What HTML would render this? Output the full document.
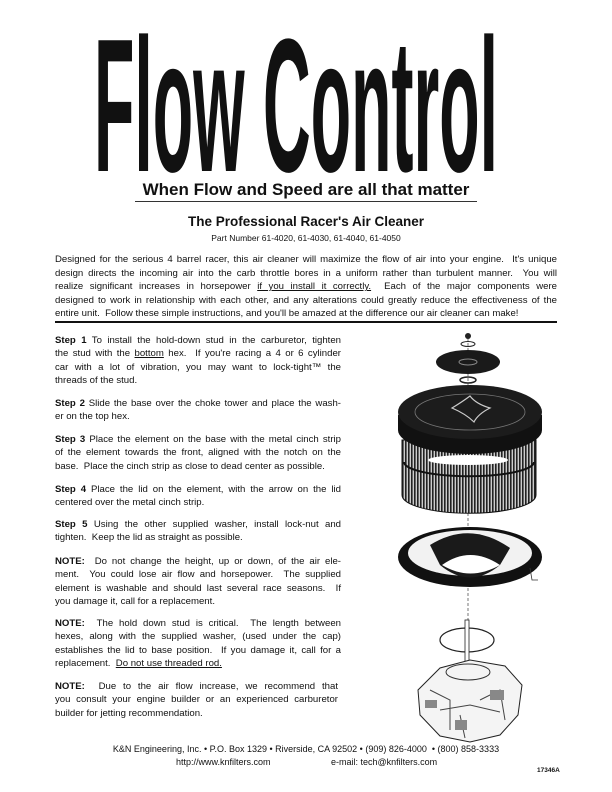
<!DOCTYPE html>
<html><head><meta charset="utf-8"><style>
body{margin:0;background:#fff}
#p{position:relative;width:612px;height:792px;overflow:hidden;font-family:"Liberation Sans",Arial,sans-serif;color:#111}
.a{position:absolute}
.t{font-size:9.6px;line-height:13.3px;text-align:justify;text-align-last:justify}
.lp{display:block;text-align:justify;text-align-last:justify}
.ll{display:block;text-align:left;text-align-last:left}
b{font-weight:bold}
</style></head><body><div id="p">
<div class="a" style="left:94px;top:11px;width:1200px;font-size:190px;line-height:190px;font-weight:bold;transform-origin:0 0;transform:scaleX(0.348);white-space:nowrap">Flow Control</div>
<div class="a" style="left:0;width:612px;top:180px;text-align:center;font-weight:bold;font-size:17px">When Flow and Speed are all that matter</div>
<div class="a" style="left:135px;width:342px;top:201px;border-top:1px solid #333"></div>
<div class="a" style="left:0;width:612px;top:214px;text-align:center;font-weight:bold;font-size:13.5px">The Professional Racer's Air Cleaner</div>
<div class="a" style="left:0;width:612px;top:233px;text-align:center;font-size:8.5px">Part Number 61-4020, 61-4030, 61-4040, 61-4050</div>
<div class="a t" style="left:55px;width:502px;top:253px;line-height:13.6px">
<span class="lp">Designed for the serious 4 barrel racer, this air cleaner will maximize the flow of air into your engine. &nbsp;It's unique</span>
<span class="lp">design directs the incoming air into the carb throttle bores in a uniform rather than turbulent manner. &nbsp;You will</span>
<span class="lp">realize significant increases in horsepower <u>if you install it correctly.</u> &nbsp;Each of the major components were</span>
<span class="lp">designed to work in relationship with each other, and any alterations could greatly reduce the effectiveness of the</span>
<span class="ll">entire unit. &nbsp;Follow these simple instructions, and you'll be amazed at the difference our air cleaner can make!</span>
</div>
<div class="a" style="left:55px;width:502px;top:321px;border-top:2px solid #111"></div>

<div class="a t" style="left:55px;width:286px;top:334px">
<span class="lp"><b>Step 1</b> To install the hold-down stud in the carburetor, tighten</span>
<span class="lp">the stud with the <u>bottom</u> hex. &nbsp;If you're racing a 4 or 6 cylinder</span>
<span class="lp">car with a lot of vibration, you may want to lock-tight™ the</span>
<span class="ll">threads of the stud.</span></div>
<div class="a t" style="left:55px;width:286px;top:397px">
<span class="lp"><b>Step 2</b> Slide the base over the choke tower and place the wash-</span>
<span class="ll">er on the top hex.</span></div>
<div class="a t" style="left:55px;width:286px;top:433px">
<span class="lp"><b>Step 3</b> Place the element on the base with the metal cinch strip</span>
<span class="lp">of the element towards the front, aligned with the notch on the</span>
<span class="ll">base. &nbsp;Place the cinch strip as close to dead center as possible.</span></div>
<div class="a t" style="left:55px;width:286px;top:483px">
<span class="lp"><b>Step 4</b> Place the lid on the element, with the arrow on the lid</span>
<span class="ll">centered over the metal cinch strip.</span></div>
<div class="a t" style="left:55px;width:286px;top:518px">
<span class="lp"><b>Step 5</b> Using the other supplied washer, install lock-nut and</span>
<span class="ll">tighten. &nbsp;Keep the lid as straight as possible.</span></div>
<div class="a t" style="left:55px;width:286px;top:555px">
<span class="lp"><b>NOTE:</b> &nbsp;Do not change the height, up or down, of the air ele-</span>
<span class="lp">ment. &nbsp;You could lose air flow and horsepower. &nbsp;The supplied</span>
<span class="lp">element is washable and should last several race seasons. &nbsp;If</span>
<span class="ll">you damage it, call for a replacement.</span></div>
<div class="a t" style="left:55px;width:286px;top:617px">
<span class="lp"><b>NOTE:</b> &nbsp;The hold down stud is critical. &nbsp;The length between</span>
<span class="lp">hexes, along with the supplied washer, (used under the cap)</span>
<span class="lp">establishes the lid to base position. &nbsp;If you damage it, call for a</span>
<span class="ll">replacement. &nbsp;<u>Do not use threaded rod.</u></span></div>
<div class="a t" style="left:55px;width:283px;top:680px">
<span class="lp"><b>NOTE:</b> &nbsp;Due to the air flow increase, we recommend that</span>
<span class="lp">you consult your engine builder or an experienced carburetor</span>
<span class="ll">builder for jetting recommendation.</span></div>

<svg class="a" style="left:0;top:0" width="612" height="792">
<defs><pattern id="st" width="3" height="10" patternUnits="userSpaceOnUse"><rect width="3" height="10" fill="#ccc"/><rect width="1.6" height="10" fill="#222"/></pattern></defs>
<line x1="468" y1="338" x2="468" y2="650" stroke="#555" stroke-width="0.8" stroke-dasharray="3,2"/>
<circle cx="468" cy="336" r="3" fill="#222"/>
<ellipse cx="468" cy="344" rx="7" ry="2.5" fill="none" stroke="#222"/>
<ellipse cx="468" cy="362" rx="32" ry="12" fill="#1a1a1a"/>
<ellipse cx="468" cy="362" rx="9" ry="3" fill="none" stroke="#888"/>
<ellipse cx="468" cy="380" rx="8" ry="3" fill="none" stroke="#222" stroke-width="1.5"/>
<path d="M402 440 L402 495 A66 18 0 0 0 536 495 L536 440 Z" fill="url(#st)" stroke="#111"/>
<path d="M404 462 A64 14 0 0 0 534 462" fill="none" stroke="#111" stroke-width="2"/>
<ellipse cx="468" cy="460" rx="40" ry="5" fill="#fff"/>
<path d="M398 415 L398 430 A72 24 0 0 0 542 430 L542 415 Z" fill="#111"/>
<ellipse cx="470" cy="412" rx="72" ry="27" fill="#1c1c1c"/>
<ellipse cx="470" cy="412" rx="55" ry="18" fill="none" stroke="#777" stroke-width="0.8"/>
<path d="M452 408 Q462 402 470 396 Q476 404 490 408 Q478 414 474 422 Q466 414 452 408Z" fill="none" stroke="#ccc" stroke-width="1.2"/>
<ellipse cx="470" cy="557" rx="72" ry="30" fill="#111"/>
<ellipse cx="470" cy="553" rx="62" ry="23" fill="#f2f2f2"/>
<path d="M430 545 Q470 520 510 548 L500 565 Q470 590 440 565 Z" fill="#1a1a1a"/>
<path d="M442 565 Q470 545 500 565 Q470 582 442 565Z" fill="#fff"/>
<path d="M530 568 L532 580 L538 580" fill="none" stroke="#333" stroke-width="0.8"/>
<ellipse cx="467" cy="640" rx="27" ry="12" fill="none" stroke="#222" stroke-width="1.2"/>
<rect x="465" y="620" width="4" height="42" fill="#fff" stroke="#222" stroke-width="0.8"/>
<path d="M418 690 L440 668 L470 660 L505 666 L522 685 L518 715 L500 735 L470 742 L440 736 L420 715 Z" fill="#f4f4f4" stroke="#222"/>
<ellipse cx="468" cy="672" rx="22" ry="8" fill="none" stroke="#333"/>
<path d="M430 690 L450 700 L450 730 M480 700 L500 690 L505 720 M440 710 L470 705 L500 712 M460 715 L465 738" fill="none" stroke="#444" stroke-width="1"/>
<path d="M425 700 h12 v8 h-12z M490 690 h14 v10 h-14z M455 720 h12 v10 h-12z" fill="#888"/>
</svg>

<div class="a" style="left:0;width:612px;top:744px;text-align:center;font-size:9px">K&amp;N Engineering, Inc. • P.O. Box 1329 • Riverside, CA 92502 • (909) 826-4000 &nbsp;• (800) 858-3333</div>
<div class="a" style="left:176px;top:757px;font-size:9px">http://www.knfilters.com</div>
<div class="a" style="left:331px;top:757px;font-size:9px">e-mail: tech@knfilters.com</div>
<div class="a" style="left:537px;top:767px;font-size:6.5px;font-weight:bold">17346A</div>
</div></body></html>
